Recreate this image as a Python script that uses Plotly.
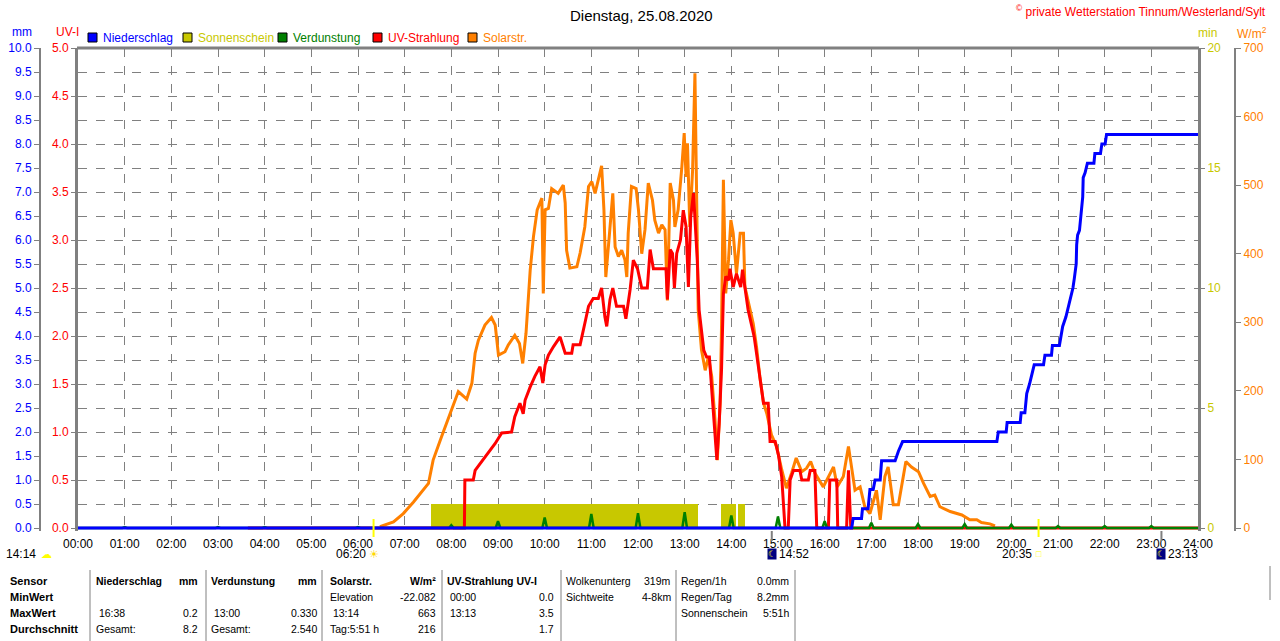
import plotly.graph_objects as go

# ---- data (hours as decimal values) ----
solar_t = [6.47, 6.76, 6.97, 7.19, 7.51, 7.61, 7.79, 7.97, 8.15, 8.33, 8.44, 8.51, 8.58, 8.72, 8.86,
           8.94, 9.01, 9.15, 9.22, 9.36, 9.46, 9.53, 9.6, 9.69, 9.76, 9.84, 9.94, 9.97, 10.01, 10.08,
           10.15, 10.29, 10.4, 10.44, 10.47, 10.54, 10.69, 10.76, 10.86, 10.94, 11.01, 11.08, 11.15,
           11.22, 11.27, 11.31, 11.39, 11.46, 11.51, 11.58, 11.65, 11.72, 11.76, 11.79, 11.86, 11.96,
           12.01, 12.08, 12.15, 12.22, 12.31, 12.36, 12.44, 12.51, 12.58, 12.63, 12.69, 12.76, 12.79,
           12.86, 12.94, 12.99, 13.03, 13.06, 13.11, 13.17, 13.22, 13.26, 13.29, 13.36, 13.44, 13.51,
           13.58, 13.65, 13.7, 13.76, 13.79, 13.83, 13.88, 13.94, 13.99, 14.04, 14.11, 14.19, 14.26,
           14.29, 14.36, 14.47, 14.54, 14.61, 14.69, 14.76, 14.86, 14.97, 15.08, 15.18, 15.29, 15.39,
           15.51, 15.61, 15.7, 15.79, 15.97, 16.19, 16.27, 16.4, 16.51, 16.58, 16.65, 16.76, 16.86,
           16.97, 17.11, 17.19, 17.29, 17.36, 17.47, 17.58, 17.67, 17.74, 17.86, 18.01, 18.12, 18.26,
           18.36, 18.47, 18.69, 18.94, 19.11, 19.26, 19.36, 19.54, 19.65]
solar_w = [2, 9, 21, 38, 65, 99, 133, 167, 199, 188, 211, 255, 274, 296, 307,
           296, 252, 257, 267, 281, 269, 240, 284, 376, 425, 464, 481, 342, 464, 466,
           495, 488, 500, 474, 405, 379, 381, 401, 439, 498, 505, 488, 508,
           528, 464, 366, 430, 488, 410, 396, 405, 391, 366, 430, 498, 495,
           464, 400, 435, 503, 478, 449, 430, 442, 435, 332, 503, 478, 439,
           464, 527, 576, 512, 561, 439, 522, 663, 488, 318, 260, 230, 250,
           221, 158, 99, 182, 294, 508, 342, 391, 449, 430, 371, 430, 430,
           352, 332, 298, 264, 221, 182, 167, 136, 119, 85, 58, 80, 102,
           82, 87, 97, 80, 60, 89, 60, 75, 119, 89, 55, 60, 31,
           21, 55, 12, 75, 89, 34, 34, 70, 97, 89, 82, 65, 46,
           48, 31, 24, 19, 12, 12, 8, 6, 3]

uv_t = [3.64, 8.28, 8.29, 8.47, 8.51, 8.65, 8.79, 8.94, 9.08, 9.29, 9.36, 9.47, 9.54, 9.58, 9.69,
        9.79, 9.9, 9.96, 10.01, 10.08, 10.19, 10.33, 10.44, 10.58, 10.61, 10.76, 10.86, 10.94,
        11.04, 11.15, 11.22, 11.29, 11.33, 11.4, 11.46, 11.54, 11.69, 11.74, 11.83, 11.9, 11.99,
        12.08, 12.2, 12.26, 12.33, 12.6, 12.63, 12.69, 12.74, 12.78, 12.83, 12.91, 12.97, 13.03,
        13.08, 13.13, 13.19, 13.24, 13.27, 13.31, 13.36, 13.41, 13.47, 13.53, 13.58, 13.63, 13.69,
        13.74, 13.79, 13.83, 13.88, 13.94, 13.97, 14.04, 14.11, 14.2, 14.24, 14.29, 14.36, 14.44,
        14.49, 14.54, 14.61, 14.69, 14.79, 14.83, 14.94, 15.01, 15.08, 15.15, 15.22, 15.26, 15.33,
        15.47, 15.51, 15.65, 15.69, 15.79, 15.83, 16.08, 16.11, 16.26, 16.28, 16.47, 16.51, 16.56, 24.0]
uv_i = [0, 0, 0.5, 0.5, 0.6, 0.69, 0.79, 0.88, 0.99, 1.0, 1.16, 1.3, 1.19, 1.33, 1.47,
        1.58, 1.68, 1.51, 1.7, 1.8, 1.89, 1.99, 1.82, 1.82, 1.91, 1.91, 2.13, 2.31,
        2.39, 2.39, 2.5, 2.2, 2.1, 2.38, 2.5, 2.31, 2.31, 2.18, 2.48, 2.79, 2.7,
        2.5, 2.5, 2.9, 2.7, 2.7, 2.38, 2.9, 2.86, 2.5, 2.86, 3.0, 3.31, 3.14,
        2.51, 3.24, 3.49, 3.07, 2.79, 2.27, 2.03, 1.85, 1.78, 1.78, 1.44, 1.13, 0.71,
        1.09, 1.65, 2.44, 2.62, 2.58, 2.7, 2.51, 2.65, 2.51, 2.69, 2.51, 2.27, 2.1,
        1.99, 1.82, 1.58, 1.3, 1.3, 0.9, 0.9, 0.76, 0.53, 0, 0, 0.5, 0.6,
        0.6, 0.5, 0.5, 0.6, 0.6, 0, 0, 0.5, 0.5, 0, 0, 0.6, 0, 0]

rain_t = [0, 16.58, 16.61, 16.79, 16.81, 16.93, 16.97, 17.04, 17.08, 17.19, 17.22, 17.51, 17.58,
          17.67, 19.69, 19.72, 19.89, 19.91, 20.19, 20.21, 20.29, 20.33, 20.39, 20.44, 20.49, 20.69,
          20.72, 20.86, 20.88, 21.03, 21.06, 21.1, 21.17, 21.22, 21.26, 21.32, 21.35, 21.39, 21.4,
          21.42, 21.46, 21.49, 21.51, 21.53, 21.54, 21.58, 21.63, 21.77, 21.79, 21.91, 21.94, 22.01,
          22.04, 24.0]
rain_mm = [0, 0, 0.2, 0.2, 0.4, 0.4, 0.8, 0.8, 1.0, 1.0, 1.4, 1.4, 1.6,
           1.8, 1.8, 2.0, 2.0, 2.2, 2.2, 2.4, 2.4, 2.8, 3.0, 3.2, 3.4, 3.4,
           3.6, 3.6, 3.8, 3.8, 4.0, 4.2, 4.4, 4.6, 4.8, 5.0, 5.2, 5.5, 5.9,
           6.1, 6.2, 6.5, 6.7, 6.9, 7.3, 7.4, 7.6, 7.6, 7.8, 7.8, 8.0, 8.0,
           8.2, 8.2]

evap_h = [1, 3, 4, 6, 8, 9, 10, 11, 12, 13, 14, 15, 16, 17, 18, 19, 20, 21, 22, 23]
evap_mm = [0.02, 0.02, 0.02, 0.02, 0.06, 0.14, 0.22, 0.29, 0.31, 0.33, 0.26, 0.24, 0.14, 0.11,
           0.08, 0.08, 0.07, 0.04, 0.04, 0.04]

sun_start = [7.56, 13.78, 14.14]
sun_end = [13.28, 14.10, 14.29]
sun_min = [1, 1, 1]

hour_labels = ["%02d:00" % h for h in range(25)]

sun_rise, sun_set = "06:20", "20:35"
moon_rise, moon_set = "14:52", "23:13"
day_length = "14:14"

table_rows = ["Sensor", "MinWert", "MaxWert", "Durchschnitt"]

W, H = 1280, 641
GRAY = "#808080"
BLUE, RED, ORANGE, GREEN, YELLOW = "#0000FF", "#FF0000", "#FF8000", "#008000", "#C8C800"
FONT = "Liberation Sans, Arial, sans-serif"


def px(x):
    return x / W


def py(y):
    return 1 - y / H


def hrs(s):
    hh, mm = s.split(":")
    return int(hh) + int(mm) / 60


# evaporation drawn as hourly spikes on a zero line
ev_x, ev_y = [0], [0]
for h, v in zip(evap_h, evap_mm):
    ev_x += [h - 0.05, h, h + 0.05]
    ev_y += [0, v, 0]
ev_x.append(24)
ev_y.append(0)

fig = go.Figure()

fig.add_trace(go.Bar(
    x=[(a + b) / 2 for a, b in zip(sun_start, sun_end)],
    y=sun_min, width=[b - a for a, b in zip(sun_start, sun_end)],
    marker=dict(color=YELLOW, line=dict(width=0)), yaxis="y"))
fig.add_trace(go.Scatter(x=solar_t, y=solar_w, mode="lines",
                         line=dict(color=ORANGE, width=3), yaxis="y2"))
fig.add_trace(go.Scatter(x=uv_t, y=uv_i, mode="lines",
                         line=dict(color=RED, width=3), yaxis="y3"))
fig.add_trace(go.Scatter(x=ev_x, y=ev_y, mode="lines",
                         line=dict(color=GREEN, width=2.5), yaxis="y4"))
fig.add_trace(go.Scatter(x=rain_t, y=rain_mm, mode="lines",
                         line=dict(color=BLUE, width=3), yaxis="y4"))

ydom = [py(531), py(48)]
pad = 3 / 480  # fraction of the range below zero so the zero lines are not clipped

fig.update_layout(
    width=W, height=H, margin=dict(l=0, r=0, t=0, b=0, pad=0, autoexpand=False),
    paper_bgcolor="white", plot_bgcolor="white", showlegend=False,
    bargap=0, font=dict(family=FONT, size=12, color="black"),
    xaxis=dict(domain=[px(78), px(1198)], range=[0, 24], tickvals=list(range(25)),
               ticktext=hour_labels, showgrid=True, gridcolor=GRAY, griddash="dash",
               gridwidth=1, zeroline=False, showline=False, ticks="", automargin=False,
               tickfont=dict(size=12, color="black"), ticklabelstandoff=4),
    yaxis=dict(domain=ydom, range=[-20 * pad, 20], anchor="x", side="right",
               tickvals=[0, 5, 10, 15, 20], showgrid=False, zeroline=False, automargin=False,
               showline=True, linecolor=GRAY, linewidth=3, ticks="outside",
               ticklen=4, tickcolor=GRAY, tickfont=dict(color=YELLOW, size=12)),
    yaxis2=dict(domain=ydom, range=[-700 * pad, 700], overlaying="y", anchor="free",
                position=px(1235), side="right", tickvals=list(range(0, 701, 100)),
                showgrid=False, zeroline=False, showline=True, linecolor=GRAY,
                linewidth=2, ticks="outside", ticklen=5, tickcolor=GRAY, automargin=False,
                tickfont=dict(color=ORANGE, size=12)),
    yaxis3=dict(domain=ydom, range=[-5 * pad, 5], overlaying="y", anchor="x", side="left",
                tickvals=[i / 2 for i in range(11)], tickformat=".1f", showgrid=False,
                zeroline=False, showline=True, linecolor=GRAY, linewidth=3, automargin=False,
                ticks="outside", ticklen=4, tickcolor=GRAY,
                tickfont=dict(color=RED, size=12)),
    yaxis4=dict(domain=ydom, range=[-10 * pad, 10], overlaying="y", anchor="free",
                position=px(40), side="left", tickvals=[i / 2 for i in range(21)],
                tickformat=".1f", showgrid=True, gridcolor=GRAY, griddash="dash",
                zeroline=False, showline=True, linecolor=GRAY, linewidth=2, automargin=False,
                ticks="outside", ticklen=5, tickcolor=GRAY,
                tickfont=dict(color=BLUE, size=12)),
)

shapes = []
ann = []


def text(x, y, s, color="black", size=12, anchor="left", xref="paper", xshift=0):
    ann.append(dict(x=x if xref == "x" else px(x), y=py(y), xref=xref, yref="paper", text=s,
                    showarrow=False, xanchor=anchor, yanchor="middle", xshift=xshift,
                    font=dict(color=color, size=size, family=FONT)))


# top frame
shapes.append(dict(type="line", xref="paper", yref="paper", x0=px(77), x1=px(1199),
                   y0=py(48), y1=py(48), line=dict(color=GRAY, width=3)))

# title and copyright
text(641, 15, "Dienstag, 25.08.2020", size=15, anchor="center")
text(1268, 11, "<sup>©</sup> private Wetterstation Tinnum/Westerland/Sylt", color=RED,
     size=12, anchor="right")

# legend
legend_items = [("Niederschlag", BLUE, 88), ("Sonnenschein", YELLOW, 183),
                ("Verdunstung", GREEN, 278), ("UV-Strahlung", RED, 373), ("Solarstr.", ORANGE, 468)]
for name, col, x0 in legend_items:
    shapes.append(dict(type="rect", xref="paper", yref="paper", x0=px(x0), x1=px(x0 + 9),
                       y0=py(42), y1=py(33), fillcolor=col, line=dict(color="black", width=1)))
    text(x0 + 13, 38, name, color=col)

# axis units
text(22, 32, "mm", color=BLUE, anchor="center")
text(67, 32, "UV-I", color=RED, anchor="center")
text(1207, 33, "min", color=YELLOW, anchor="center")
text(1252, 33, "W/m<sup>2</sup>", color=ORANGE, anchor="center")

# sun / moon markers
for s in (sun_rise, sun_set):
    shapes.append(dict(type="line", xref="x", yref="paper", x0=hrs(s), x1=hrs(s),
                       y0=py(519), y1=py(537), line=dict(color="#FFFF00", width=2)))
for s in (moon_rise, moon_set):
    shapes.append(dict(type="line", xref="x", yref="paper", x0=hrs(s), x1=hrs(s),
                       y0=py(531), y1=py(541), line=dict(color=GRAY, width=2)))

text(38, 554, day_length, anchor="right")
text(46, 554, "☁", color="#FFFF00", size=11, anchor="center")
text(hrs(sun_rise), 554, sun_rise, anchor="right", xref="x", xshift=-6)
text(hrs(sun_rise), 554, "☀", color="#FFD800", size=11, anchor="center", xref="x")
text(hrs(sun_set), 554, sun_set, anchor="right", xref="x", xshift=-5)
text(hrs(sun_set), 554, "□", color="#FFFF00", size=9, anchor="center", xref="x")
for s in (moon_rise, moon_set):
    ann.append(dict(x=hrs(s), y=py(554), xref="x", yref="paper", text="☾", showarrow=False,
                    xanchor="center", yanchor="middle", bgcolor="#000080", borderpad=0,
                    font=dict(color="#FFFF00", size=9, family=FONT)))
    text(hrs(s), 554, s, anchor="left", xref="x", xshift=5)

# statistics table
row_y = [581, 597, 613, 629]
for r, y in zip(table_rows, row_y):
    text(8, y, "<b>%s</b>" % r, size=11)
for xs in (90, 206, 322, 442, 561, 676, 795):
    shapes.append(dict(type="line", xref="paper", yref="paper", x0=px(xs), x1=px(xs),
                       y0=py(570), y1=py(641), line=dict(color=GRAY, width=1)))
shapes.append(dict(type="line", xref="paper", yref="paper", x0=px(1270), x1=px(1270),
                   y0=py(566), y1=py(600), line=dict(color=GRAY, width=1)))

cells = [
    # (left x, right x, [(left text, right text) per row])
    (94, 200, [("<b>Niederschlag</b>", "<b>mm</b>"), ("", ""), (" 16:38", "0.2"), ("Gesamt:", "8.2")]),
    (209, 319, [("<b>Verdunstung</b>", "<b>mm</b>"), ("", ""), (" 13:00", "0.330"), ("Gesamt:", "2.540")]),
    (328, 438, [("<b>Solarstr.</b>", "<b>W/m²</b>"), ("Elevation", "-22.082"), (" 13:14", "663"),
                ("Tag:5:51 h", "216")]),
    (445, 556, [("<b>UV-Strahlung UV-I</b>", ""), (" 00:00", "0.0"), (" 13:13", "3.5"), ("", "1.7")]),
    (564, 673, [("Wolkenunterg", "319m"), ("Sichtweite", "4-8km"), ("", ""), ("", "")]),
    (679, 791, [("Regen/1h", "0.0mm"), ("Regen/Tag", "8.2mm"), ("Sonnenschein", "5:51h"), ("", "")]),
]
for xl, xr, rows in cells:
    for (lt, rt), y in zip(rows, row_y):
        if lt:
            text(xl, y, lt, size=10.5)
        if rt:
            text(xr, y, rt, size=10.5, anchor="right")

fig.update_layout(shapes=shapes, annotations=ann)
# the page body has a default margin; remove it so the figure sits at the window origin
fig.write_html("out.html", config={"displayModeBar": False},
               post_script="document.body.style.margin='0';")
